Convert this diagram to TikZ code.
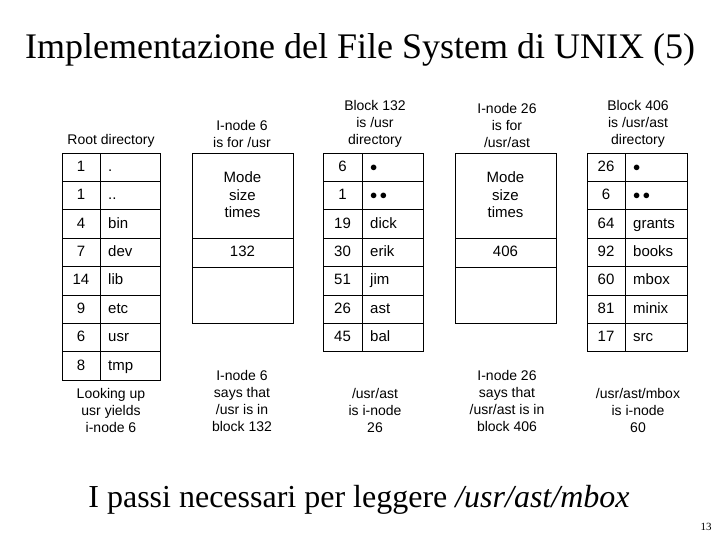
\documentclass[tikz,border=0pt]{standalone}
\usepackage{fontspec}
\setmainfont{Liberation Serif}
\newfontfamily\lab{Liberation Sans}
\begin{document}
\begin{tikzpicture}[x=1pt,y=-1pt,
  lbl/.style={font=\lab\fontsize{14}{17}\selectfont,align=center,inner sep=0pt},
  cell/.style={font=\lab\fontsize{15}{17}\selectfont,inner sep=0pt,text height=10.5pt,text depth=3pt},
  box/.style={draw,line width=0.9pt}]
\useasboundingbox (0,0) rectangle (720,540);
\node (title) at (360,50) {\fontsize{36}{40}\selectfont Implementazione del File System di UNIX (5)};
\newcommand\dirtab[5]{%
  \foreach \a/\b [count=\i] in {#5} {
    \pgfmathsetmacro\yt{153+(\i-1)*28.4}
    \draw[box] (#1,\yt) rectangle (#3,\yt+28.4);
    \draw[box] (#3,\yt) rectangle (#2,\yt+28.4);
    \node[cell] (#4n\i) at ({(#1+#3)/2},\yt+14.6) {\a};
    \node[cell,anchor=west] (#4s\i) at (#3+8,\yt+14.6) {\b};
  }}
\dirtab{62}{160}{100}{r}{1/., 1/.., 4/bin, 7/dev, 14/lib, 9/etc, 6/usr, 8/tmp}
\dirtab{323}{423}{362}{b}{6/$\bullet$, 1/$\bullet\,\bullet$, 19/dick, 30/erik, 51/jim, 26/ast, 45/bal}
\dirtab{587}{687}{625}{c}{26/$\bullet$, 6/$\bullet\,\bullet$, 64/grants, 92/books, 60/mbox, 81/minix, 17/src}
\foreach \x/\v/\n in {192/132/ia, 455/406/ib} {
  \draw[box] (\x,153) rectangle (\x+101,238);
  \draw[box] (\x,238) rectangle (\x+101,267);
  \draw[box] (\x,267) rectangle (\x+101,323);
  \node[lbl,font=\lab\fontsize{15}{17.5}\selectfont] (\n m) at (\x+50.5,195) {Mode\\size\\times};
  \node[cell] (\n v) at (\x+50.5,252.5) {\v};
}
\begin{scope}[every node/.append style={anchor=south}]
\node[lbl] (t1) at (111,148) {Root directory};
\node[lbl] (t2) at (242,148) {I-node 6\\is for /usr};
\node[lbl] (t3) at (375,148) {Block 132\\is /usr\\directory};
\node[lbl] (t4) at (507,148) {I-node 26\\is for\\/usr/ast};
\node[lbl] (t5) at (638,148) {Block 406\\is /usr/ast\\directory};
\end{scope}
\begin{scope}[every node/.append style={anchor=north}]
\node[lbl] (u1) at (111,388) {Looking up\\usr yields\\i-node 6};
\node[lbl] (u2) at (242,370) {I-node 6\\says that\\/usr is in\\block 132};
\node[lbl] (u3) at (375,388) {/usr/ast\\is i-node\\26};
\node[lbl] (u4) at (507,370) {I-node 26\\says that\\/usr/ast is in\\block 406};
\node[lbl] (u5) at (638,388) {/usr/ast/mbox\\is i-node\\60};
\end{scope}
\node (foot) at (359,500) {\fontsize{32}{36}\selectfont I passi necessari per leggere \textit{/usr/ast/mbox}};
\node (pg) at (706,527) {\fontsize{11}{13}\selectfont 13};
\end{tikzpicture}
\end{document}
